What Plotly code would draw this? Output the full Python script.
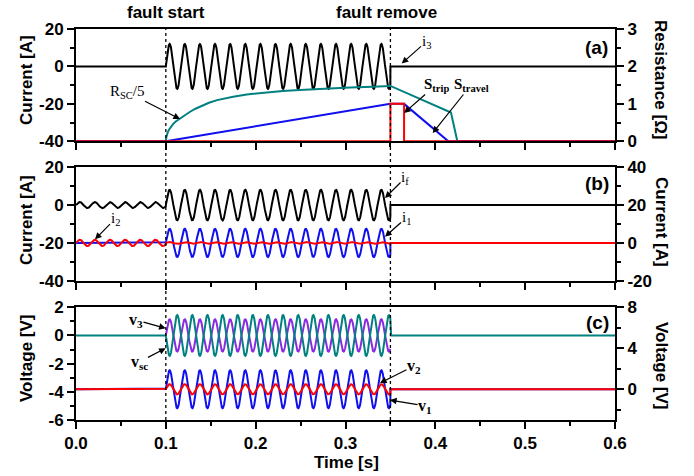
import numpy as np
import plotly.graph_objects as go

# ---------------- data ----------------
T_FAULT_START = 0.1
T_FAULT_REMOVE = 0.35
T_END = 0.6
FREQ_HZ = 59.4          # read from peak spacing

# sinusoid segment amplitudes [pre-fault, fault, post-fault] and means
i3_amp, i3_mean = [0.0, 12.0, 0.0], [0.0, 0.0, 0.0]          # panel a, left axis [A]
if_amp, if_mean = [1.6, 8.1, 0.0], [0.0, 0.0, 0.0]           # panel b, left axis [A]
i1_amp, i1_mean = [0.0, 7.5, 0.0], [0.0, 0.0, 0.0]           # panel b, right axis [A]
i2_amp, i2_mean = [1.7, 0.5, 0.0], [0.0, 0.0, 0.0]           # panel b, right axis [A]
v3_amp, v3_mean = [0.0, 1.15, 0.0], [0.0, 0.0, 0.0]          # panel c, left axis [V]
vsc_amp, vsc_mean = [0.0, -1.45, 0.0], [0.0, 0.0, 0.0]       # panel c, left axis [V]
v1_amp, v1_mean = [0.0, 1.85, 0.0], [0.0, 0.0, 0.0]          # panel c, right axis [V]
v2_amp, v2_mean = [0.0, 0.5, 0.0], [0.0, 0.0, 0.0]           # panel c, right axis [V]

# R_SC/5 curve (panel a, right axis, ohm)
rsc_t = [0.0, 0.1, 0.1005, 0.101, 0.102, 0.1035, 0.1055, 0.108, 0.111, 0.1158, 0.121,
         0.127, 0.133, 0.14, 0.148, 0.157, 0.166, 0.175, 0.19, 0.2123, 0.23, 0.249,
         0.268, 0.2865, 0.305, 0.33, 0.35, 0.4174, 0.4245, 0.6]
rsc_r = [0.0, 0.0, 0.10, 0.16, 0.23, 0.31, 0.39, 0.46, 0.53, 0.61, 0.70,
         0.79, 0.87, 0.95, 1.03, 1.10, 1.15, 1.19, 1.25, 1.31, 1.345, 1.37,
         1.40, 1.42, 1.44, 1.46, 1.48, 0.77, 0.0, 0.0]
# S_travel (blue) and S_trip (red), panel a, right axis
stravel_t = [0.0, 0.1, 0.35, 0.3652, 0.4145, 0.6]
stravel_v = [0.0, 0.0, 1.0, 1.0, 0.0, 0.0]
strip_t = [0.0, 0.35, 0.35, 0.3652, 0.3652, 0.6]
strip_v = [0.0, 0.0, 1.0, 1.0, 0.0, 0.0]

# tick labels
x_ticks = [0.0, 0.1, 0.2, 0.3, 0.4, 0.5, 0.6]
x_ticktext = ["0.0", "0.1", "0.2", "0.3", "0.4", "0.5", "0.6"]
ya_l_ticks, ya_l_text = [-40, -20, 0, 20], ["-40", "-20", "0", "20"]
ya_r_ticks, ya_r_text = [0, 1, 2, 3], ["0", "1", "2", "3"]
yb_l_ticks, yb_l_text = [-40, -20, 0, 20], ["-40", "-20", "0", "20"]
yb_r_ticks, yb_r_text = [-20, 0, 20, 40], ["-20", "0", "20", "40"]
yc_l_ticks, yc_l_text = [-6, -4, -2, 0, 2], ["-6", "-4", "-2", "0", "2"]
yc_r_ticks, yc_r_text = [0, 4, 8], ["0", "4", "8"]

# ---------------- build waveforms ----------------
t = np.linspace(0.0, T_END, 6001)
bounds = [0.0, T_FAULT_START, T_FAULT_REMOVE, T_END + 1e-9]
fault_mask = (t >= T_FAULT_START) & (t < T_FAULT_REMOVE)


def wave(amps, means):
    y = np.zeros_like(t)
    for k in range(3):
        m = (t >= bounds[k]) & (t < bounds[k + 1])
        y[m] = means[k] + amps[k] * np.sin(2 * np.pi * FREQ_HZ * (t[m] - bounds[k]))
    return y


BLACK, RED, BLUE, TEAL, PURPLE = "#000000", "#ff0000", "#1010ee", "#008080", "#8a2be2"
LW = 2

fig = go.Figure()


def add(x, y, color, xa, ya):
    fig.add_trace(go.Scatter(x=x, y=y, mode="lines", line=dict(color=color, width=LW),
                             xaxis=xa, yaxis=ya, showlegend=False, hoverinfo="skip"))


# panel a
add(t, wave(i3_amp, i3_mean), BLACK, "x", "y")
add(rsc_t, rsc_r, TEAL, "x", "y2")
add(stravel_t, stravel_v, BLUE, "x", "y2")
add(strip_t, strip_v, RED, "x", "y2")
# panel b
add(t, wave(if_amp, if_mean), BLACK, "x2", "y3")
add(t, wave(i1_amp, i1_mean), BLUE, "x2", "y4")
add(t, wave(i2_amp, i2_mean), RED, "x2", "y4")
# panel c
add(t[fault_mask], wave(v3_amp, v3_mean)[fault_mask], PURPLE, "x3", "y5")
add(t, wave(vsc_amp, vsc_mean), TEAL, "x3", "y5")
add(t, wave(v1_amp, v1_mean), BLUE, "x3", "y6")
add(t, wave(v2_amp, v2_mean), RED, "x3", "y6")

# ---------------- layout ----------------
W, H = 694, 476
ML, MR, MT, MB = 76, 79, 29, 56
PW, PH = W - ML - MR, H - MT - MB


def P(px, py):
    return (px - ML) / PW, (H - MB - py) / PH


dom_a = [P(0, 141.3)[1], 1.0]
dom_b = [P(0, 280.7)[1], P(0, 167.3)[1]]
dom_c = [0.0, P(0, 307.3)[1]]

SANS = "Liberation Sans"
SERIF = "Liberation Serif"
tickfont = dict(family=SANS, size=17, color="black", weight="bold")


def xax(anchor, labels):
    return dict(domain=[0, 1], anchor=anchor, range=[0, T_END], tickmode="array",
                tickvals=x_ticks, ticktext=x_ticktext,
                showticklabels=labels, ticks="outside", ticklen=7, tickwidth=2,
                tickcolor="black", showline=True, linewidth=2, linecolor="black",
                mirror=True, showgrid=False, zeroline=False, tickfont=tickfont,
                minor=dict(tickmode="array", tickvals=[0.05, 0.15, 0.25, 0.35, 0.45, 0.55],
                           ticks="outside", ticklen=4, tickwidth=2, tickcolor="black"))


def yax(dom, rng, tv, tt, minor, side="left", anchor="x", overlay=None):
    d = dict(domain=dom, range=rng, tickmode="array", tickvals=tv, ticktext=tt,
             ticks="outside", ticklen=7, tickwidth=2, tickcolor="black", side=side,
             showline=True, linewidth=2, linecolor="black", showgrid=False,
             zeroline=False, tickfont=tickfont, anchor=anchor,
             minor=dict(tickmode="array", tickvals=minor, ticks="outside", ticklen=4,
                        tickwidth=2, tickcolor="black"))
    if overlay:
        d["overlaying"] = overlay
    else:
        d["mirror"] = True
    return d


fig.update_layout(
    width=W, height=H, margin=dict(l=ML, r=MR, t=MT, b=MB, autoexpand=False),
    paper_bgcolor="white", plot_bgcolor="white",
    xaxis=xax("y", False), xaxis2=xax("y3", False), xaxis3=xax("y5", True),
    yaxis=yax(dom_a, [-40, 20], ya_l_ticks, ya_l_text, [-30, -10, 10], anchor="x"),
    yaxis2=yax(dom_a, [0, 3], ya_r_ticks, ya_r_text, [0.5, 1.5, 2.5], side="right",
               anchor="x", overlay="y"),
    yaxis3=yax(dom_b, [-40, 20], yb_l_ticks, yb_l_text, [-30, -10, 10], anchor="x2"),
    yaxis4=yax(dom_b, [-20, 40], yb_r_ticks, yb_r_text, [-10, 10, 30], side="right",
               anchor="x2", overlay="y3"),
    yaxis5=yax(dom_c, [-6, 2], yc_l_ticks, yc_l_text, [-5, -3, -1, 1], anchor="x3"),
    yaxis6=yax(dom_c, [-3, 8], yc_r_ticks, yc_r_text, [-2, 2, 6], side="right",
               anchor="x3", overlay="y5"),
)

# dotted fault markers spanning all panels
for tv in (T_FAULT_START, T_FAULT_REMOVE):
    fig.add_shape(type="line", xref="x", yref="paper", x0=tv, x1=tv, y0=0, y1=1,
                  line=dict(color="black", width=1.3, dash="dot"), layer="above")

ann = []


def text(s, px, py, size, family=SANS, bold=True, angle=0):
    x, y = P(px, py)
    ann.append(dict(text=s, x=x, y=y, xref="paper", yref="paper", showarrow=False,
                    textangle=angle, xanchor="center", yanchor="middle",
                    font=dict(family=family, size=size, color="black",
                              weight="bold" if bold else "normal")))


def label_arrow(s, label, tip, size, bold):
    """Serif label centred at `label` (px) with an arrow to `tip` (px)."""
    x, y = P(*tip)
    ann.append(dict(text=s, x=x, y=y, xref="paper", yref="paper", showarrow=True,
                    ax=label[0] - tip[0], ay=label[1] - tip[1], arrowhead=2,
                    arrowsize=1.1, arrowwidth=1.2, arrowcolor="black", standoff=0,
                    borderpad=0,
                    font=dict(family=SERIF, size=size, color="black",
                              weight="bold" if bold else "normal")))


text("fault start", 166, 13, 17)
text("fault remove", 386, 13, 17)
text("(a)", 596, 47, 19)
text("(b)", 597, 183, 19)
text("(c)", 597, 322, 19)
text("Time [s]", 346, 462, 17)
text("Current [A]", 26, 80, 17, angle=-90)
text("Current [A]", 26, 220, 17, angle=-90)
text("Voltage [V]", 26, 358, 17, angle=-90)
text("Resistance [Ω]", 661, 79, 17, angle=90)
text("Current [A]", 661, 222, 17, angle=90)
text("Voltage [V]", 662, 366, 17, angle=90)

label_arrow("i<sub>3</sub>", (426, 42), (401.7, 63.5), 15, False)
label_arrow("R<sub>SC</sub>/5", (127, 92), (180, 119), 15, False)
label_arrow("S<sub>trip</sub>", (436, 85), (404, 113), 15, True)
label_arrow("S<sub>travel</sub>", (471, 85), (432.7, 133), 15, True)
label_arrow("i<sub>f</sub>", (405, 178), (385, 198), 15, False)
label_arrow("i<sub>1</sub>", (406, 218), (385, 236.7), 15, False)
label_arrow("i<sub>2</sub>", (115, 219), (95, 239.3), 15, False)
label_arrow("v<sub>3</sub>", (136, 320), (165.7, 328.3), 16, True)
label_arrow("v<sub>sc</sub>", (139, 362), (165.7, 348.3), 16, True)
label_arrow("v<sub>2</sub>", (414, 366), (380, 383), 16, True)
label_arrow("v<sub>1</sub>", (425, 406), (390, 400), 16, True)

fig.update_layout(annotations=ann)
fig.write_html("out.html")
